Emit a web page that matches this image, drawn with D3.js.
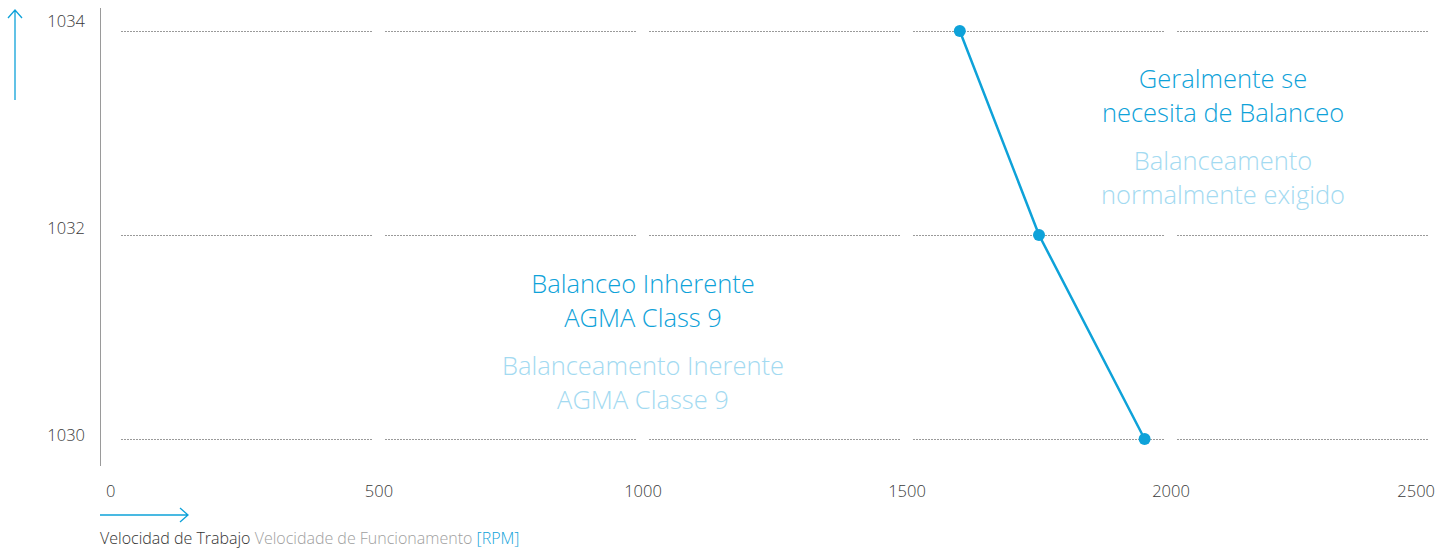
<!DOCTYPE html>
<html>
<head>
<meta charset="utf-8">
<script src="https://cdn.jsdelivr.net/npm/d3@7/dist/d3.min.js"></script>
<style>
  html, body { margin: 0; padding: 0; background: #fff; }
  svg { display: block; font-family: "Open Sans", "Lato", sans-serif; font-weight: 300; }
</style>
</head>
<body>
<svg id="chart" width="1452" height="549"></svg>
<script>
// Working speed (RPM) against gear pitch-line values
const speeds = [1600, 1750, 1950];
const values = [1034, 1032, 1030];
const xTicks = [0, 500, 1000, 1500, 2000, 2500];
const yTicks = [1030, 1032, 1034];

const zoneLeftEs = ["Balanceo Inherente", "AGMA Class 9"];
const zoneLeftPt = ["Balanceamento Inerente", "AGMA Classe 9"];
const zoneRightEs = ["Geralmente se", "necesita de Balanceo"];
const zoneRightPt = ["Balanceamento", "normalmente exigido"];
const xTitle = ["Velocidad de Trabajo", "Velocidade de Funcionamento", "[RPM]"];

const blue = "#0ea2d9";
const paleBlue = "#a3daf1";

const svg = d3.select("#chart");

const x = d3.scaleLinear().domain([0, 2500]).range([115, 1435]);
const y = d3.scaleLinear().domain([1030, 1034]).range([439, 31]);
// tick labels sit a little off the gridlines, on their own baseline scale
const yLabel = d3.scaleLinear().domain([1030, 1034]).range([441, 27]);

// Y axis rule
svg.append("line")
  .attr("x1", 100.5).attr("x2", 100.5)
  .attr("y1", 8).attr("y2", 466)
  .attr("stroke", "#9a9a9a").attr("stroke-width", 1);

// Dotted gridlines, broken into one segment per x interval
const bands = d3.pairs(xTicks);
yTicks.forEach(v => {
  svg.append("g").selectAll("line")
    .data(bands)
    .join("line")
    .attr("x1", d => x(d[0]) + 6)
    .attr("x2", d => x(d[1]) - 6)
    .attr("y1", Math.round(y(v)) + 0.5)
    .attr("y2", Math.round(y(v)) + 0.5)
    .attr("stroke", "#9a9a9a")
    .attr("stroke-width", 1)
    .attr("stroke-dasharray", "2,1");
});

// Y tick labels
svg.append("g").selectAll("text")
  .data(yTicks)
  .join("text")
  .attr("x", 85)
  .attr("y", d => yLabel(d))
  .attr("text-anchor", "end")
  .attr("font-size", 16.5)
  .attr("fill", "#3a3a3a")
  .text(d => d);

// X tick labels
svg.append("g").selectAll("text")
  .data(xTicks)
  .join("text")
  .attr("x", (d, i) => i === 0 ? x(d) - 9 : x(d))
  .attr("y", 497)
  .attr("text-anchor", (d, i) => i === 0 ? "start" : (i === xTicks.length - 1 ? "end" : "middle"))
  .attr("font-size", 16.5)
  .attr("fill", "#3a3a3a")
  .text(d => d);

// Axis direction arrows
svg.append("path")
  .attr("d", "M15,100 L15,10 M8,18 L15,10 L22,18")
  .attr("fill", "none").attr("stroke", blue).attr("stroke-width", 1.3);
svg.append("path")
  .attr("d", "M100,515 L188,515 M180,508 L188,515 L180,522")
  .attr("fill", "none").attr("stroke", blue).attr("stroke-width", 1.3);

// X axis title
const title = svg.append("text")
  .attr("x", 100).attr("y", 544)
  .attr("font-size", 16);
title.append("tspan").attr("fill", "#333").text(xTitle[0]);
title.append("tspan").attr("fill", "#a0a0a0").text(" " + xTitle[1]);
title.append("tspan").attr("fill", blue).text(" " + xTitle[2]);

// Boundary line and points
const pts = speeds.map((s, i) => [s, values[i]]);
svg.append("path")
  .datum(pts)
  .attr("d", d3.line().x(d => x(d[0])).y(d => y(d[1])))
  .attr("fill", "none").attr("stroke", blue).attr("stroke-width", 2.5);
svg.append("g").selectAll("circle")
  .data(pts)
  .join("circle")
  .attr("cx", d => x(d[0]))
  .attr("cy", d => y(d[1]))
  .attr("r", 6)
  .attr("fill", blue);

// Zone annotations
function block(lines, cx, y0, color) {
  svg.append("g").selectAll("text")
    .data(lines)
    .join("text")
    .attr("x", cx)
    .attr("y", (d, i) => y0 + i * 34)
    .attr("text-anchor", "middle")
    .attr("font-size", 25.5)
    .attr("fill", color)
    .text(d => d);
}
block(zoneLeftEs, 643, 293, blue);
block(zoneLeftPt, 643, 375, paleBlue);
block(zoneRightEs, 1223, 88, blue);
block(zoneRightPt, 1223, 170, paleBlue);
</script>
</body>
</html>
